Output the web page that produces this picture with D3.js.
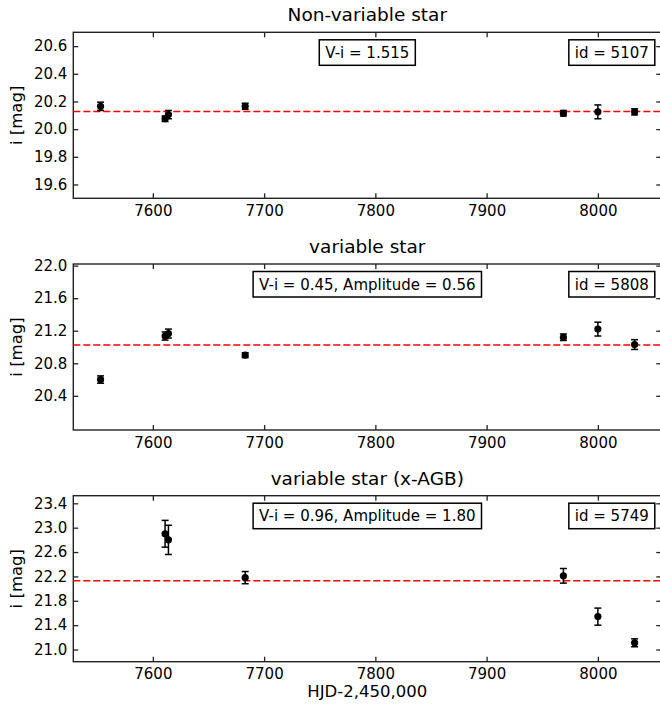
<!DOCTYPE html>
<html>
<head>
<meta charset="utf-8">
<script src="https://cdn.jsdelivr.net/npm/d3@7"></script>
<style>
  body { margin: 0; background: #fff; }
  svg text { font-family: "DejaVu Sans", sans-serif; fill: #000; }
  .axis path { display: none; }
  .axis line { stroke: #222; stroke-width: 1.3; }
  .axis text { font-size: 15px; }
</style>
</head>
<body>
<svg id="chart"></svg>
<script>
// observation dates (HJD-2,450,000)
const hjd = [7553, 7611, 7614, 7683, 7969, 8000, 8033];
const hjdAgb = [7611, 7614, 7683, 7969, 8000, 8033];
const xTicks = [7600, 7700, 7800, 7900, 8000];

// star 5107, non-variable
const mag5107 = [20.165, 20.075, 20.105, 20.165, 20.115, 20.125, 20.125];
const err5107 = [0.03, 0.02, 0.03, 0.022, 0.02, 0.05, 0.022];
const mean5107 = 20.128;
const yTicks5107 = [19.6, 19.8, 20.0, 20.2, 20.4, 20.6];

// star 5808, variable
const mag5808 = [20.60, 21.135, 21.165, 20.90, 21.12, 21.22, 21.03];
const err5808 = [0.045, 0.05, 0.055, 0.03, 0.04, 0.085, 0.06];
const mean5808 = 21.025;
const yTicks5808 = [20.4, 20.8, 21.2, 21.6, 22.0];

// star 5749, variable (x-AGB)
const mag5749 = [22.90, 22.80, 22.18, 22.21, 21.54, 21.11];
const err5749 = [0.22, 0.24, 0.10, 0.12, 0.14, 0.065];
const mean5749 = 22.13;
const yTicks5749 = [21.0, 21.4, 21.8, 22.2, 22.6, 23.0, 23.4];

const titles = ['Non-variable star', 'variable star', 'variable star (x-AGB)'];
const colourLabels = ['V-i = 1.515', 'V-i = 0.45, Amplitude = 0.56', 'V-i = 0.96, Amplitude = 1.80'];
const idLabels = ['id = 5107', 'id = 5808', 'id = 5749'];

class LightCurve {

  constructor(_config, _data) {
    this.config = {
      parentElement: _config.parentElement,
      top: _config.top,
      left: _config.left || 73.3,
      width: _config.width || 588,
      height: _config.height || 166,
      xDomain: _config.xDomain || [7528.5, 8057],
      yDomain: _config.yDomain,
      yTicks: _config.yTicks,
      yFormat: _config.yFormat || '.1f',
      showXLabel: _config.showXLabel || false
    }
    this.data = _data;
    this.initVis();
  }

  initVis() {
    let vis = this;
    let c = vis.config;

    vis.xScale = d3.scaleLinear().domain(c.xDomain).range([0, c.width]);
    vis.yScale = d3.scaleLinear().domain(c.yDomain).range([c.height, 0]);

    vis.chart = d3.select(c.parentElement).append('g')
      .attr('transform', `translate(${c.left},${c.top})`);

    // ticks point inwards on all four sides, labels only bottom and left
    vis.chart.append('g')
      .attr('class', 'axis x-axis')
      .attr('transform', `translate(0,${c.height})`)
      .call(d3.axisBottom(vis.xScale).tickValues(xTicks).tickFormat(d3.format('d'))
        .tickSizeInner(-5).tickSizeOuter(0).tickPadding(7));

    vis.chart.append('g')
      .attr('class', 'axis')
      .call(d3.axisTop(vis.xScale).tickValues(xTicks).tickFormat('')
        .tickSizeInner(-5).tickSizeOuter(0));

    vis.chart.append('g')
      .attr('class', 'axis y-axis')
      .call(d3.axisLeft(vis.yScale).tickValues(c.yTicks).tickFormat(d3.format(c.yFormat))
        .tickSizeInner(-5).tickSizeOuter(0).tickPadding(6));

    vis.chart.append('g')
      .attr('class', 'axis')
      .attr('transform', `translate(${c.width},0)`)
      .call(d3.axisRight(vis.yScale).tickValues(c.yTicks).tickFormat('')
        .tickSizeInner(-5).tickSizeOuter(0));

    vis.chart.append('rect')
      .attr('width', c.width)
      .attr('height', c.height)
      .attr('fill', 'none')
      .attr('stroke', '#222')
      .attr('stroke-width', 1.4);

    vis.chart.append('text')
      .attr('x', c.width / 2)
      .attr('y', -11)
      .attr('text-anchor', 'middle')
      .style('font-size', '18.5px')
      .text(vis.data.title);

    vis.chart.append('text')
      .attr('transform', `translate(${22 - c.left},${c.height / 2}) rotate(-90)`)
      .attr('text-anchor', 'middle')
      .style('font-size', '16.5px')
      .text('i [mag]');

    if (c.showXLabel) {
      vis.chart.append('text')
        .attr('x', c.width / 2)
        .attr('y', c.height + 35)
        .attr('text-anchor', 'middle')
        .style('font-size', '16.5px')
        .text('HJD-2,450,000');
    }

    vis.renderVis();
  }

  addBox(label, anchorX, align) {
    let vis = this;
    let g = vis.chart.append('g');
    let t = g.append('text')
      .attr('y', 25.5)
      .style('font-size', '15px')
      .text(label);
    let w = t.node().getComputedTextLength();
    let x0 = align === 'middle' ? anchorX - w / 2 : anchorX - w;
    t.attr('x', x0);
    g.insert('rect', 'text')
      .attr('x', x0 - 6)
      .attr('y', 7.5)
      .attr('width', w + 12)
      .attr('height', 25.5)
      .attr('fill', '#fff')
      .attr('stroke', '#000')
      .attr('stroke-width', 1.5);
  }

  renderVis() {
    let vis = this;
    let c = vis.config;
    let points = vis.data.hjd.map((d, i) => ({
      hjd: d, mag: vis.data.mag[i], err: vis.data.err[i]
    }));

    // dashed mean line
    vis.chart.append('line')
      .attr('x1', 0)
      .attr('x2', c.width)
      .attr('y1', vis.yScale(vis.data.mean))
      .attr('y2', vis.yScale(vis.data.mean))
      .attr('stroke', '#ff0000')
      .attr('stroke-width', 1.6)
      .attr('stroke-dasharray', '7,3');

    let marks = vis.chart.selectAll('.obs')
      .data(points)
      .join('g')
      .attr('class', 'obs')
      .attr('transform', d => `translate(${vis.xScale(d.hjd)},0)`);

    marks.append('line')
      .attr('y1', d => vis.yScale(d.mag - d.err))
      .attr('y2', d => vis.yScale(d.mag + d.err))
      .attr('stroke', '#000')
      .attr('stroke-width', 1.5);

    marks.selectAll('.cap')
      .data(d => [d.mag - d.err, d.mag + d.err])
      .join('line')
      .attr('class', 'cap')
      .attr('x1', -3.5)
      .attr('x2', 3.5)
      .attr('y1', d => vis.yScale(d))
      .attr('y2', d => vis.yScale(d))
      .attr('stroke', '#000')
      .attr('stroke-width', 1.5);

    marks.append('circle')
      .attr('cy', d => vis.yScale(d.mag))
      .attr('r', 3.6)
      .attr('fill', '#000');

    vis.addBox(vis.data.colour, c.width / 2, 'middle');
    vis.addBox(vis.data.id, c.width - 12.5, 'end');
  }
}

const svg = d3.select('#chart')
  .attr('width', 660)
  .attr('height', 706);

new LightCurve({parentElement: '#chart', top: 32.3, yDomain: [19.5, 20.7], yTicks: yTicks5107},
  {title: titles[0], colour: colourLabels[0], id: idLabels[0], hjd: hjd, mag: mag5107, err: err5107, mean: mean5107});

new LightCurve({parentElement: '#chart', top: 264, yDomain: [19.98, 22.02], yTicks: yTicks5808},
  {title: titles[1], colour: colourLabels[1], id: idLabels[1], hjd: hjd, mag: mag5808, err: err5808, mean: mean5808});

new LightCurve({parentElement: '#chart', top: 495.7, yDomain: [20.8, 23.525], yTicks: yTicks5749, showXLabel: true},
  {title: titles[2], colour: colourLabels[2], id: idLabels[2], hjd: hjdAgb, mag: mag5749, err: err5749, mean: mean5749});
</script>
</body>
</html>
